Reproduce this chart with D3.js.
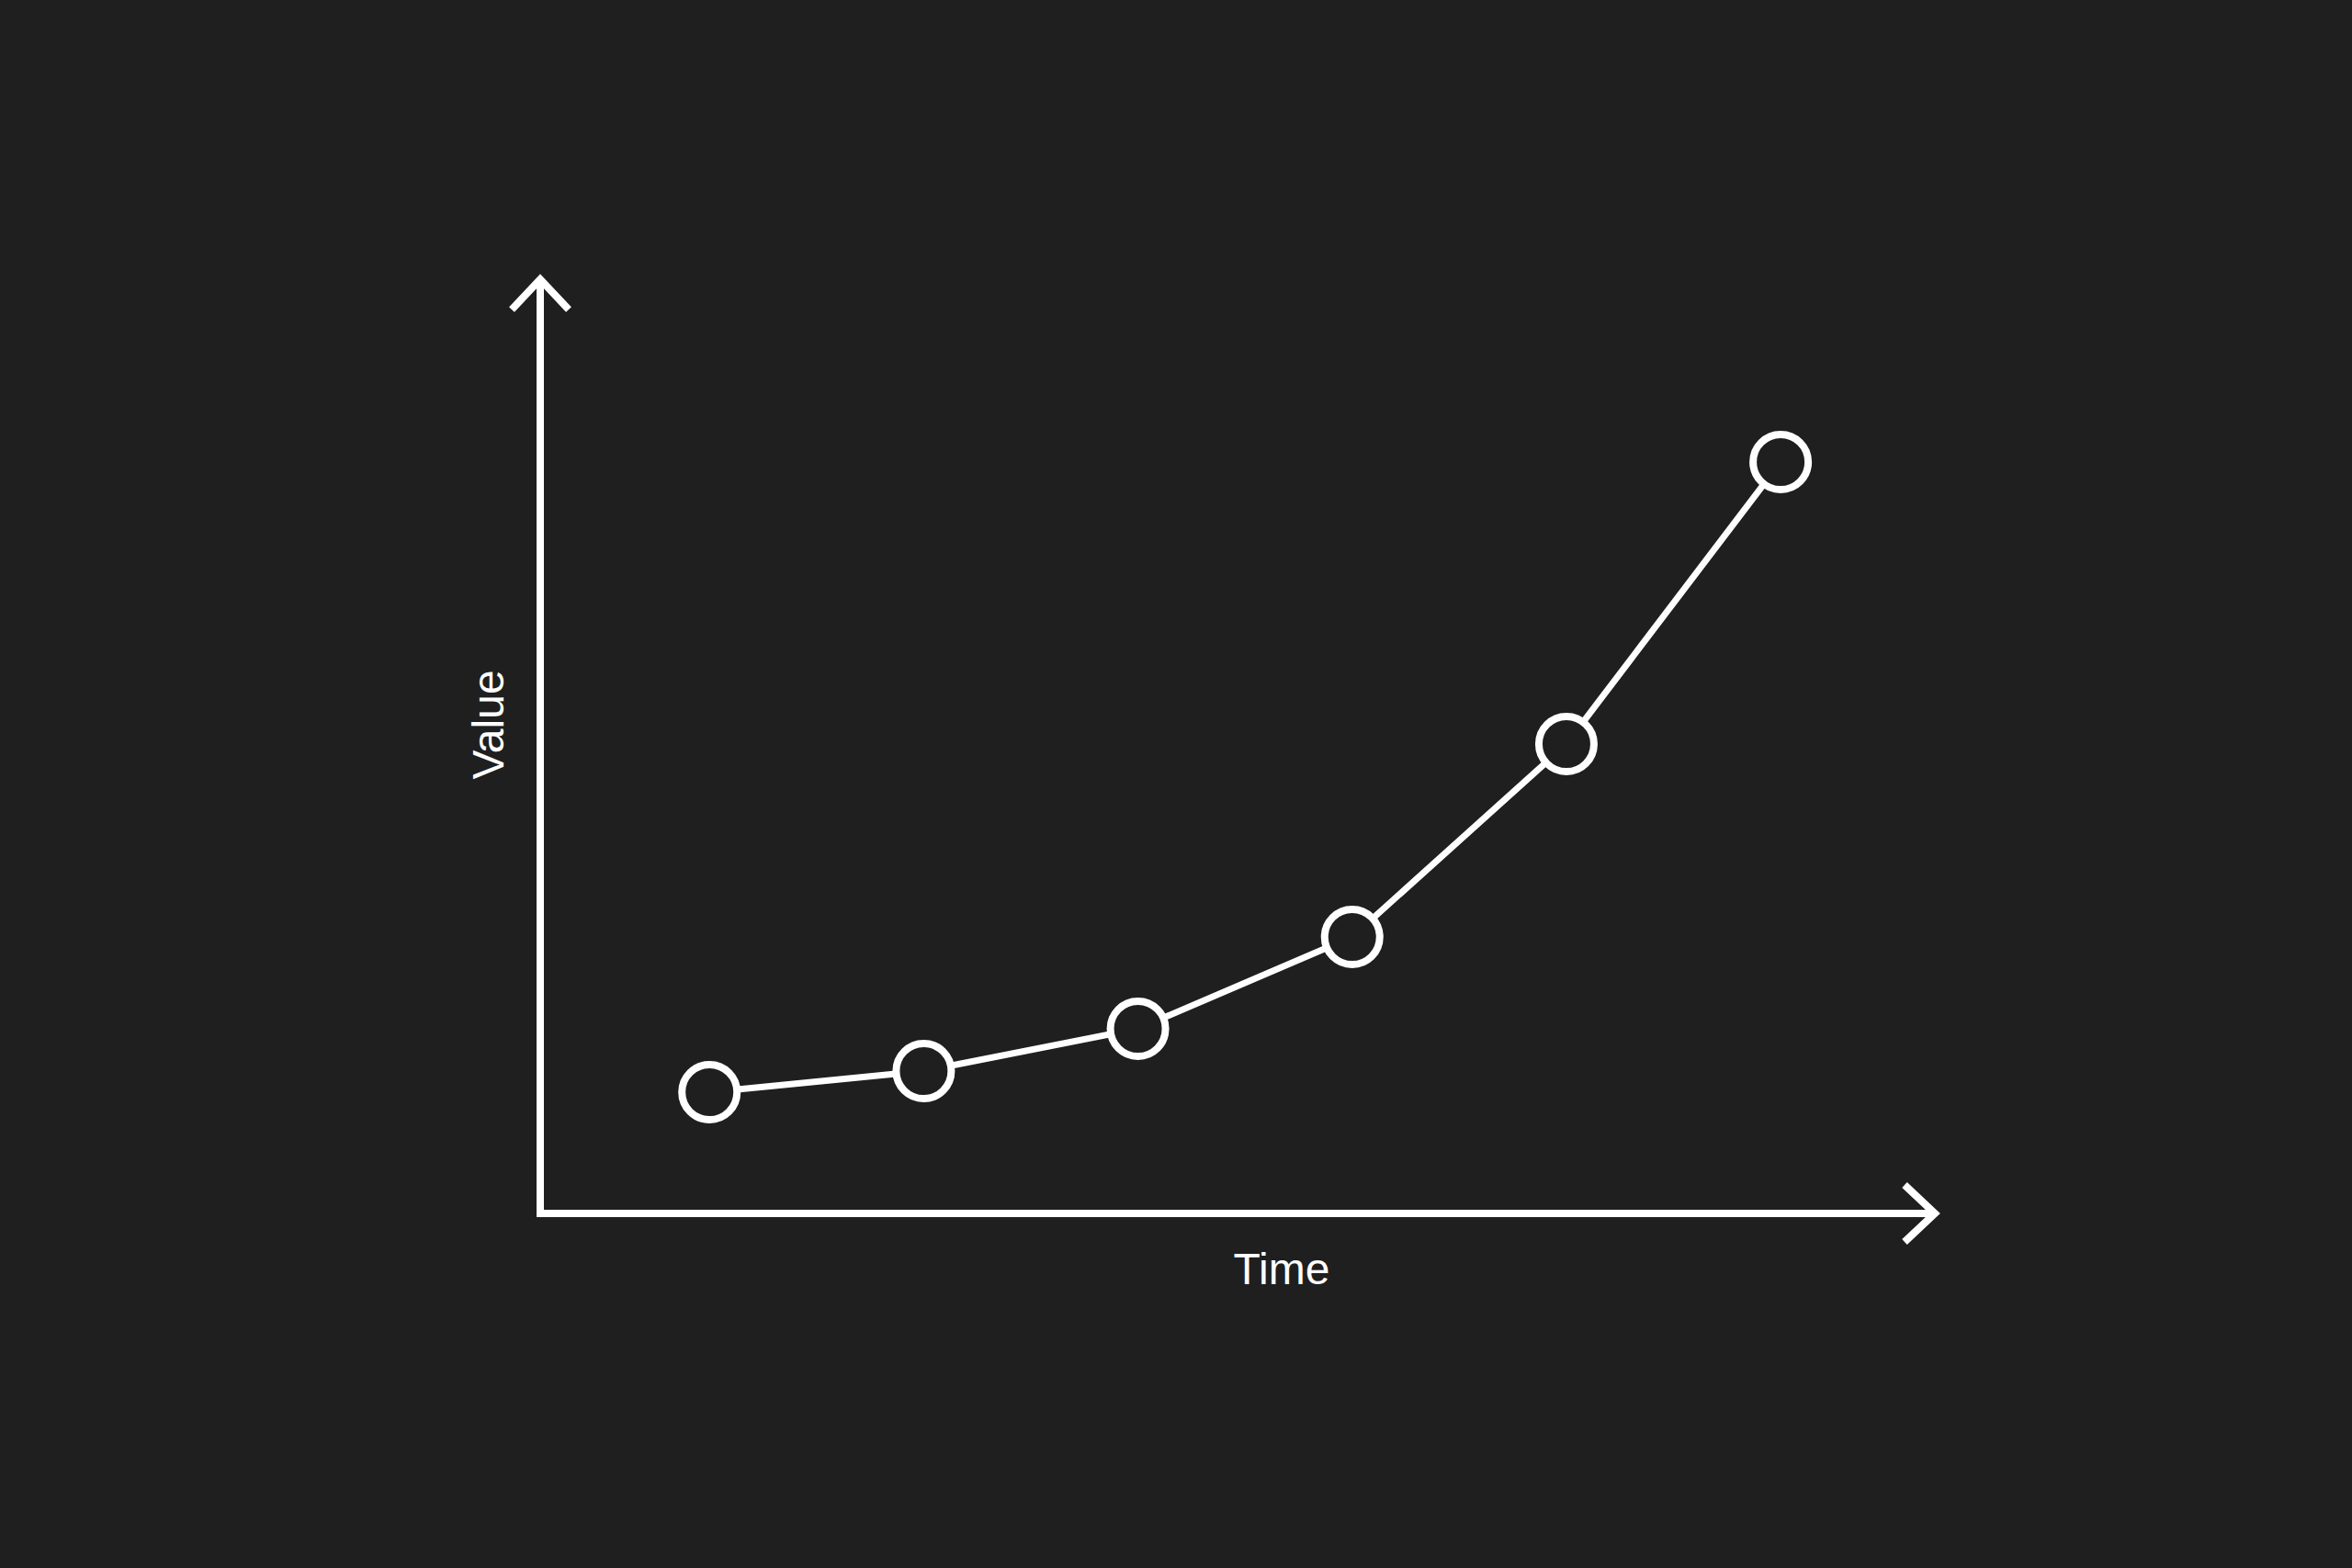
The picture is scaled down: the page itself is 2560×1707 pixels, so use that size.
<!DOCTYPE html>
<html>
<head>
<meta charset="utf-8">
<script src="https://cdn.jsdelivr.net/npm/d3@7"></script>
<style>
  html, body { margin: 0; padding: 0; background: #1f1f1f; }
  svg { display: block; }
</style>
</head>
<body>
<script>
// data
const times = [1, 2, 3, 4, 5, 6]
const values = [1.32, 1.55, 2.01, 3.01, 5.11, 8.18]
const xLabel = 'Time'
const yLabel = 'Value'

const W = 2560
const H = 1707
const margin = { top: 304, right: 454, bottom: 386, left: 588 }
const fg = '#ffffff'
const bg = '#1f1f1f'

const svg = d3.select('body').append('svg')
  .attr('width', W)
  .attr('height', H)

svg.append('rect').attr('width', W).attr('height', H).attr('fill', bg)

const x = d3.scaleLinear()
  .domain([0.21, 6.72])
  .range([margin.left, W - margin.right])

const y = d3.scaleLinear()
  .domain([0, 10.17])
  .range([H - margin.bottom, margin.top])

const x0 = x.range()[0]
const x1 = x.range()[1]
const y0 = y.range()[0]
const y1 = y.range()[1]

// axes with arrow heads
const axes = svg.append('g')
  .attr('fill', 'none')
  .attr('stroke', fg)
  .attr('stroke-width', 8)
  .attr('stroke-linejoin', 'miter')

axes.append('path')
  .attr('d', `M${x0},${y1}L${x0},${y0}L${x1},${y0}`)

const back = 33
const half = 31
axes.append('path')
  .attr('d', `M${x0 - half},${y1 + back}L${x0},${y1}L${x0 + half},${y1 + back}`)
axes.append('path')
  .attr('d', `M${x1 - back},${y0 - half}L${x1},${y0}L${x1 - back},${y0 + half}`)

// labels
svg.append('text')
  .attr('x', 1395)
  .attr('y', 1398)
  .attr('text-anchor', 'middle')
  .attr('fill', fg)
  .style('font', '48px "Liberation Sans", Arial, sans-serif')
  .text(xLabel)

svg.append('text')
  .attr('transform', 'translate(548,789) rotate(-90)')
  .attr('text-anchor', 'middle')
  .attr('fill', fg)
  .style('font', '48px "Liberation Sans", Arial, sans-serif')
  .text(yLabel)

// line + points
const data = times.map((t, i) => ({ t, v: values[i] }))

svg.append('path')
  .datum(data)
  .attr('fill', 'none')
  .attr('stroke', fg)
  .attr('stroke-width', 7)
  .attr('d', d3.line().x(d => x(d.t)).y(d => y(d.v)))

svg.append('g')
  .selectAll('circle')
  .data(data)
  .join('circle')
  .attr('cx', d => x(d.t))
  .attr('cy', d => y(d.v))
  .attr('r', 30)
  .attr('fill', bg)
  .attr('stroke', fg)
  .attr('stroke-width', 8)
</script>
</body>
</html>
